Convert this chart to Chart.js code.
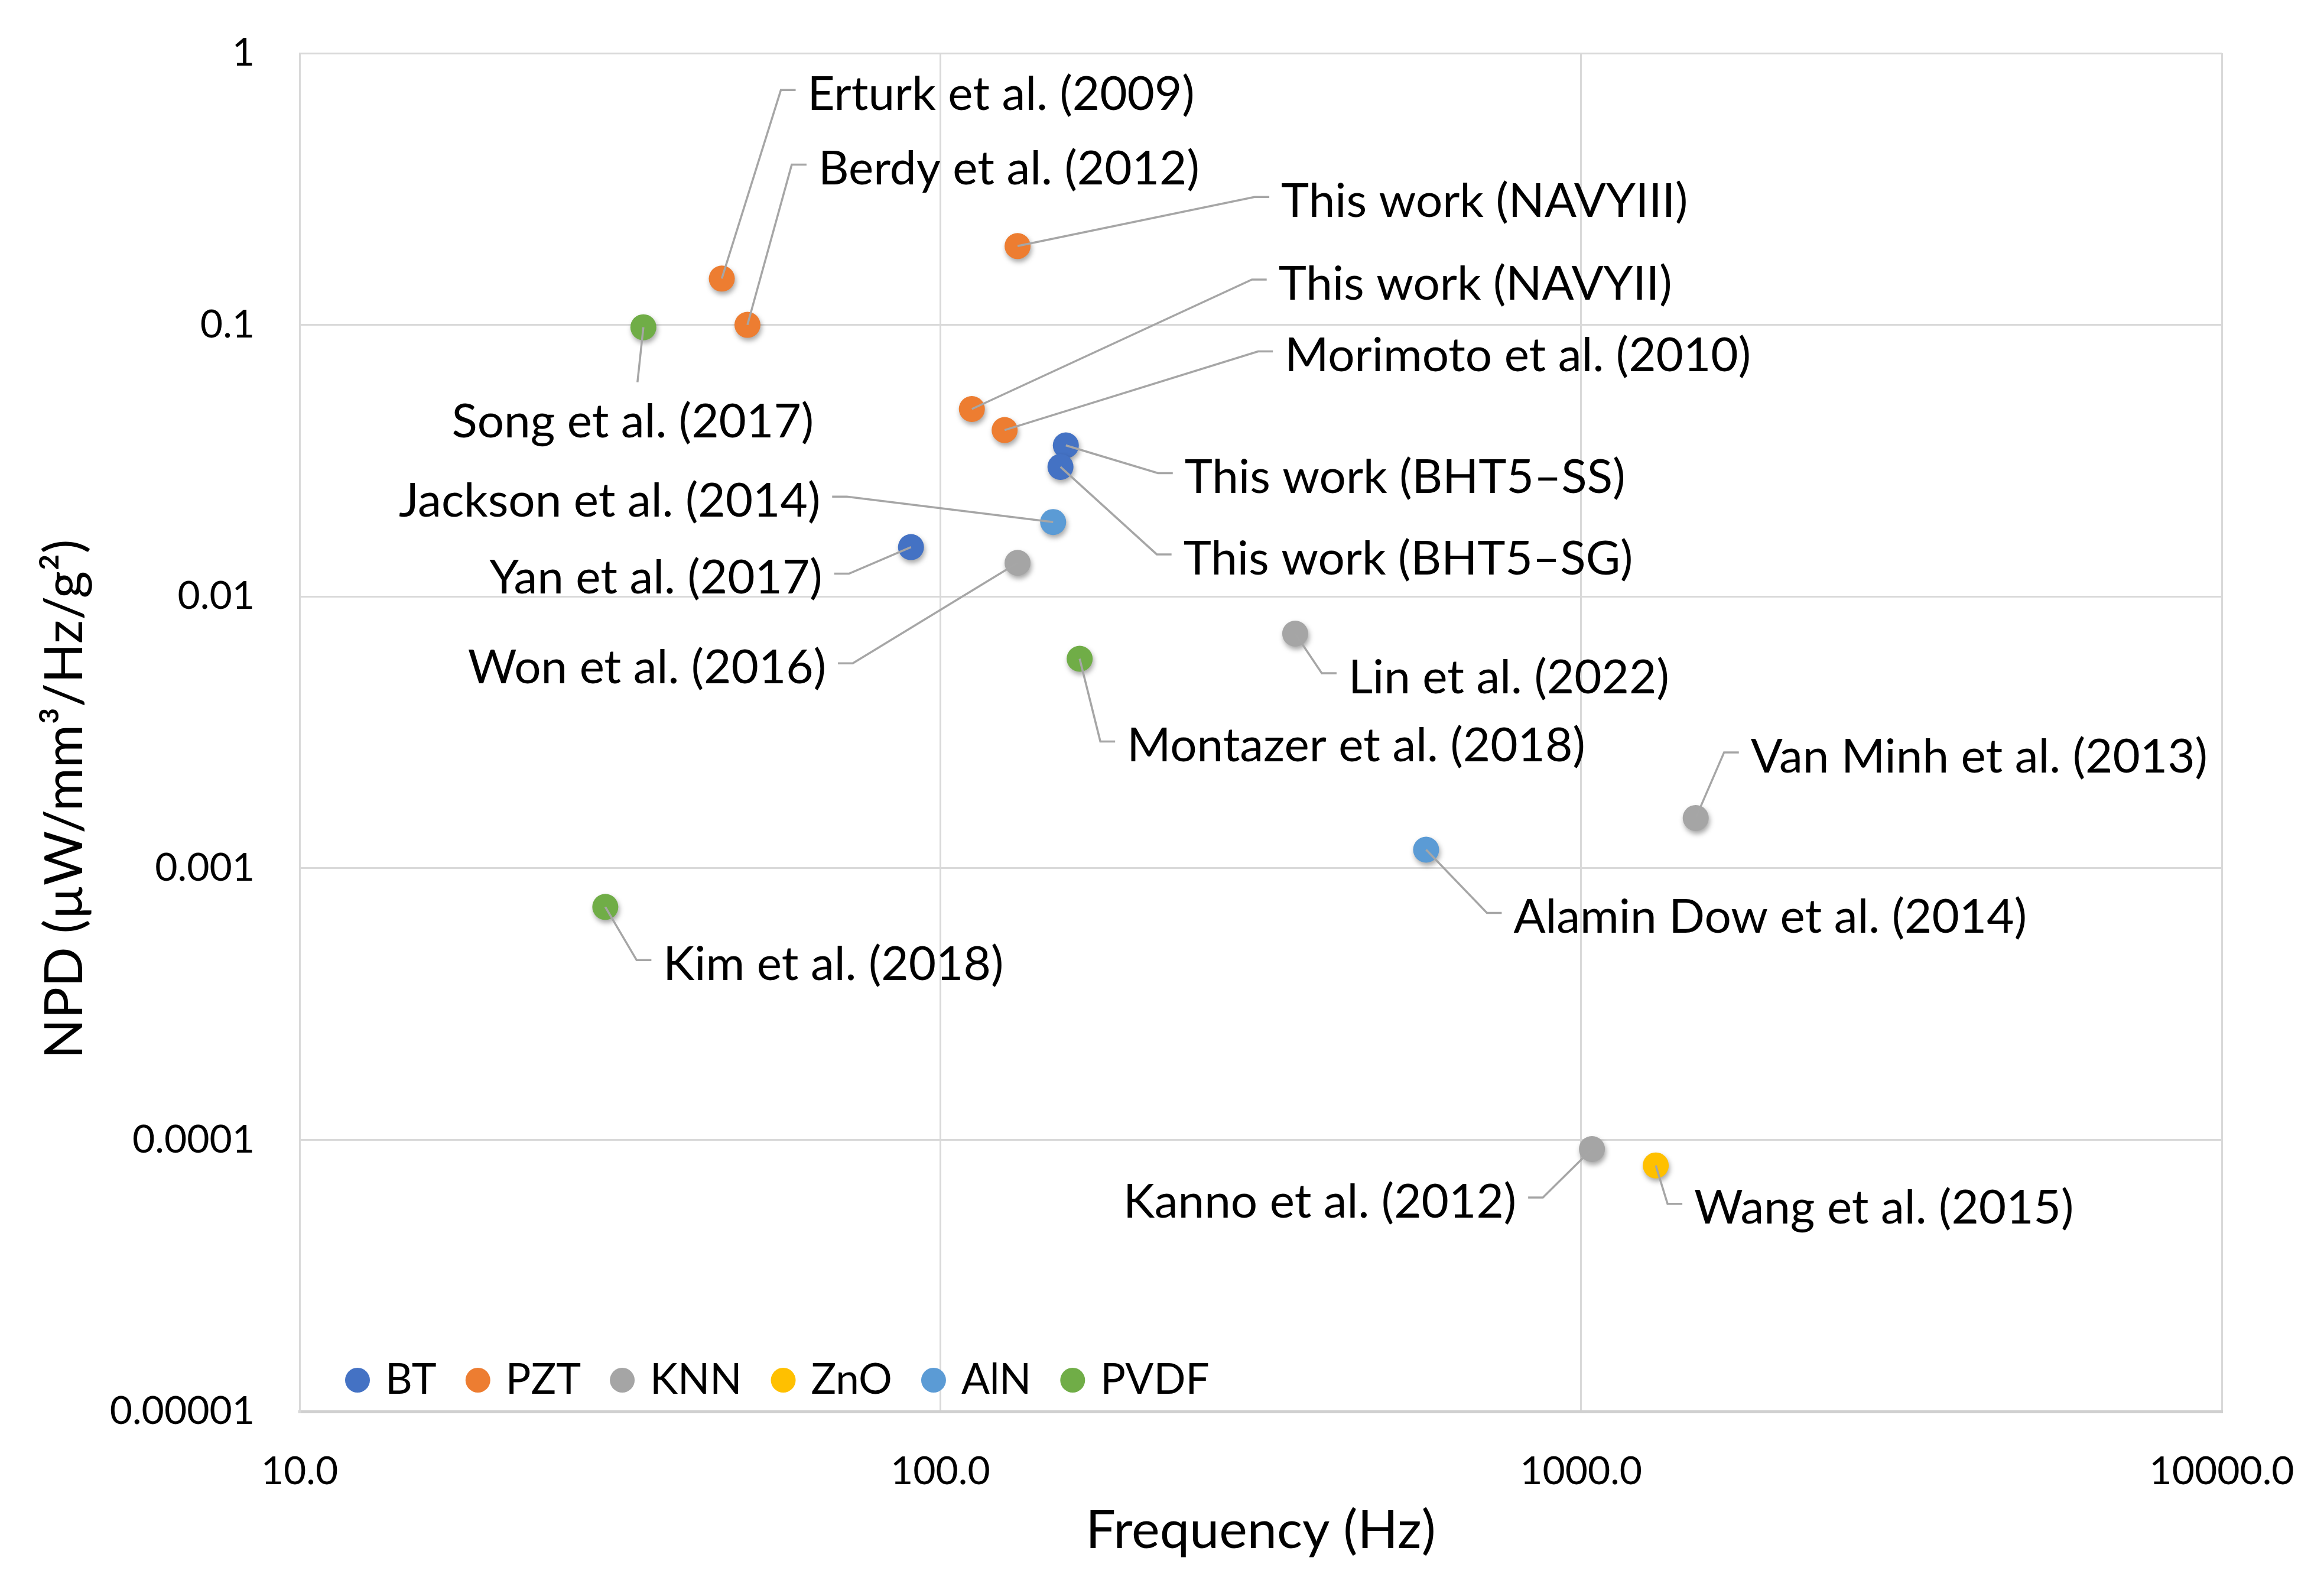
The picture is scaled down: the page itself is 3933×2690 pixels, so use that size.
<!DOCTYPE html>
<html>
<head>
<meta charset="utf-8">
<script src="https://cdn.jsdelivr.net/npm/chart.js@4.4.0/dist/chart.umd.min.js"></script>
<style>
  html, body { margin: 0; padding: 0; background: #fff; }
  canvas { display: block; }
</style>
</head>
<body>
<canvas id="npdChart" width="3933" height="2690"></canvas>
<script>
// Materials (one series each)
const seriesNames = ["BT", "PZT", "KNN", "ZnO", "AlN", "PVDF"];
const seriesColors = ["#4472C4", "#ED7D31", "#A5A5A5", "#FFC000", "#5B9BD5", "#70AD47"];

// One entry per study
const studies = [
  "Erturk et al. (2009)", "Berdy et al. (2012)", "Song et al. (2017)",
  "This work (NAVYIII)", "This work (NAVYII)", "Morimoto et al. (2010)",
  "This work (BHT5–SS)", "This work (BHT5–SG)", "Jackson et al. (2014)",
  "Yan et al. (2017)", "Won et al. (2016)", "Montazer et al. (2018)",
  "Lin et al. (2022)", "Van Minh et al. (2013)", "Alamin Dow et al. (2014)",
  "Kim et al. (2018)", "Kanno et al. (2012)", "Wang et al. (2015)"
];
const studyMaterial = [
  "PZT", "PZT", "PVDF", "PZT", "PZT", "PZT", "BT", "BT", "AlN",
  "BT", "KNN", "PVDF", "KNN", "KNN", "AlN", "PVDF", "KNN", "ZnO"
];
const frequencyHz = [45.6, 50, 34.4, 132, 112, 126, 157, 154, 150, 90, 132, 165, 358, 1510, 573, 30, 1040, 1308];
const npdValues = [0.148, 0.1, 0.098, 0.195, 0.049, 0.041, 0.036, 0.030, 0.0188, 0.0152, 0.0133, 0.0059, 0.0073, 0.00153, 0.00117, 0.00072, 0.0000925, 0.0000805];

// Axis tick labels
const xTickLabels = ["10.0", "100.0", "1000.0", "10000.0"];
const yTickLabels = ["0.00001", "0.0001", "0.001", "0.01", "0.1", "1"];

// Where each data label sits, relative to its point (canvas px)
const labelPlacement = [
  { side: "right", dx: 145, dy: -311 },
  { side: "right", dx: 120, dy: -263 },
  { side: "below", dx: -18, dy: 161 },
  { side: "right", dx: 446, dy: -75 },
  { side: "right", dx: 519, dy: -211 },
  { side: "right", dx: 474, dy: -125 },
  { side: "right", dx: 201, dy: 55 },
  { side: "right", dx: 208, dy: 156 },
  { side: "left", dx: -394, dy: -35 },
  { side: "left", dx: -150, dy: 53 },
  { side: "left", dx: -324, dy: 178 },
  { side: "right", dx: 80, dy: 148 },
  { side: "right", dx: 90, dy: 75 },
  { side: "right", dx: 93, dy: -103 },
  { side: "right", dx: 148, dy: 115 },
  { side: "right", dx: 98, dy: 98 },
  { side: "left", dx: -128, dy: 90 },
  { side: "right", dx: 65, dy: 73 }
];

const FONT = "Lato";

const datasets = seriesNames.map((name, s) => ({
  label: name,
  data: studies
    .map((study, i) => ({ x: frequencyHz[i], y: npdValues[i], study: i }))
    .filter((p) => studyMaterial[p.study] === name),
  backgroundColor: seriesColors[s],
  borderColor: seriesColors[s],
  borderWidth: 0,
  pointRadius: 22,
  pointHoverRadius: 22,
}));

// Point shadows + data labels with leader lines
const labelPlugin = {
  id: "studyLabels",
  beforeDatasetsDraw(chart) {
    const ctx = chart.ctx;
    ctx.save();
    ctx.shadowColor = "rgba(0,0,0,0.35)";
    ctx.shadowBlur = 8;
    ctx.shadowOffsetX = 2;
    ctx.shadowOffsetY = 5;
  },
  afterDatasetsDraw(chart) {
    const ctx = chart.ctx;
    ctx.restore();
    ctx.save();
    ctx.font = "80px " + FONT;
    ctx.fillStyle = "#000";
    ctx.strokeStyle = "#A6A6A6";
    ctx.lineWidth = 3.5;
    ctx.textBaseline = "middle";
    chart.data.datasets.forEach((ds, d) => {
      chart.getDatasetMeta(d).data.forEach((el, j) => {
        const idx = ds.data[j].study;
        const pl = labelPlacement[idx];
        const tx = el.x + pl.dx;
        const ty = el.y + pl.dy;
        ctx.beginPath();
        ctx.moveTo(el.x, el.y);
        if (pl.side === "below") {
          ctx.lineTo(el.x - 10, el.y + 93);
          ctx.stroke();
          ctx.textAlign = "center";
        } else {
          const dir = pl.side === "right" ? -1 : 1;
          ctx.lineTo(tx + dir * 45, ty - 8);
          ctx.lineTo(tx + dir * 20, ty - 8);
          ctx.stroke();
          ctx.textAlign = pl.side === "right" ? "left" : "right";
        }
        ctx.fillText(studies[idx], tx, ty);
      });
    });
    ctx.restore();
  },
  afterDraw(chart) {
    const ctx = chart.ctx;
    ctx.save();
    // legend inside the plot, bottom-left
    ctx.font = "71px " + FONT;
    ctx.textBaseline = "middle";
    ctx.textAlign = "left";
    let x = 584;
    const y = 2335;
    const r = 21;
    chart.data.datasets.forEach((ds) => {
      ctx.fillStyle = ds.backgroundColor;
      ctx.beginPath();
      ctx.arc(x + r, y, r, 0, Math.PI * 2);
      ctx.fill();
      ctx.fillStyle = "#000";
      ctx.fillText(ds.label, x + 2 * r + 26, y);
      x += 2 * r + 26 + ctx.measureText(ds.label).width + 49;
    });
    // y axis title
    ctx.font = "89px " + FONT;
    ctx.textAlign = "center";
    ctx.translate(110, 1352);
    ctx.rotate(-Math.PI / 2);
    ctx.fillText("NPD (µW/mm³/Hz/g²)", 0, 0);
    ctx.restore();
  },
};

const ctx = document.getElementById("npdChart").getContext("2d");
new Chart(ctx, {
  type: "scatter",
  data: { datasets: datasets },
  options: {
    responsive: false,
    devicePixelRatio: 1,
    animation: false,
    events: [],
    layout: { padding: { top: 90, right: 173, left: 0, bottom: 0 } },
    plugins: {
      legend: { display: false },
      tooltip: { enabled: false },
    },
    scales: {
      x: {
        type: "logarithmic",
        min: 10,
        max: 10000,
        afterBuildTicks: (scale) => {
          scale.ticks = xTickLabels.map((l) => ({ value: parseFloat(l) }));
        },
        afterFit: (scale) => {
          scale.height = 302;
          scale.paddingLeft = 0;
          scale.paddingRight = 0;
        },
        ticks: {
          callback: (value, index) => xTickLabels[index],
          font: { family: FONT, size: 66 },
          color: "#000",
          padding: 62,
          maxRotation: 0,
          autoSkip: false,
        },
        grid: { color: "#D9D9D9", lineWidth: 3, drawTicks: false },
        border: { color: "#D0D0D0", width: 5 },
        title: {
          display: true,
          text: "Frequency (Hz)",
          font: { family: FONT, size: 90 },
          color: "#000",
          padding: { top: 0, bottom: 46 },
        },
      },
      y: {
        type: "logarithmic",
        min: 0.00001,
        max: 1,
        afterBuildTicks: (scale) => {
          scale.ticks = yTickLabels.map((l) => ({ value: parseFloat(l) }));
        },
        afterFit: (scale) => {
          scale.width = 507;
          scale.paddingTop = 0;
          scale.paddingBottom = 0;
        },
        ticks: {
          callback: (value, index) => yTickLabels[index],
          font: { family: FONT, size: 66 },
          color: "#000",
          padding: 76,
          autoSkip: false,
        },
        grid: { color: "#D9D9D9", lineWidth: 3, drawTicks: false },
        border: { color: "#D9D9D9", width: 3 },
      },
    },
  },
  plugins: [labelPlugin],
});
</script>
</body>
</html>
